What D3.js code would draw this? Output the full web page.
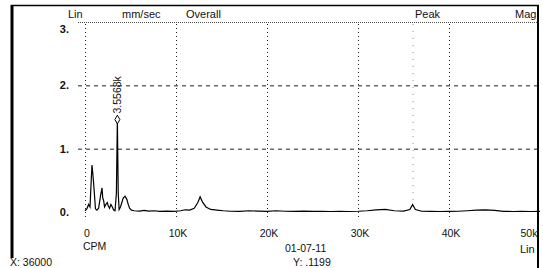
<!DOCTYPE html>
<html>
<head>
<meta charset="utf-8">
<script src="https://cdn.jsdelivr.net/npm/d3@7"></script>
<style>
  body { margin: 0; background: #fff; }
  text { font-family: "Liberation Sans", Arial, sans-serif; fill: #111; }
</style>
</head>
<body>
<div id="chart"></div>
<script>
// spectrum: frequency (CPM) and amplitude (mm/sec)
const cpm = [0, 200, 400, 550, 700, 770, 850, 950, 1050, 1150, 1300, 1500, 1700, 1870, 1950, 2050, 2150, 2300, 2450, 2550, 2700, 2850, 3000, 3150, 3300, 3450, 3557, 3650, 3750, 3900, 4050, 4200, 4400, 4600, 4750, 4900, 5100, 5400, 6000, 6500, 7000, 7600, 8200, 9000, 9800, 10500, 11000, 11500, 12000, 12400, 12650, 12900, 13300, 13800, 14500, 15200, 16000, 17000, 18000, 19000, 20000, 21000, 22000, 23000, 24000, 25000, 26000, 27000, 28000, 29000, 30000, 31000, 32000, 33000, 34000, 35000, 35700, 36000, 36300, 37000, 38000, 39000, 40000, 41000, 42000, 43000, 44000, 45000, 46000, 47000, 48000, 49000, 50000];
const amp = [0.02, 0.05, 0.12, 0.08, 0.55, 0.74, 0.62, 0.45, 0.25, 0.05, 0.03, 0.06, 0.25, 0.38, 0.22, 0.18, 0.08, 0.12, 0.15, 0.10, 0.06, 0.12, 0.08, 0.03, 0.02, 0.3, 1.46, 0.3, 0.04, 0.08, 0.15, 0.22, 0.25, 0.2, 0.12, 0.06, 0.03, 0.02, 0.015, 0.025, 0.015, 0.02, 0.01, 0.015, 0.01, 0.02, 0.035, 0.03, 0.06, 0.15, 0.24, 0.16, 0.08, 0.04, 0.03, 0.02, 0.012, 0.01, 0.02, 0.015, 0.01, 0.02, 0.012, 0.01, 0.015, 0.01, 0.012, 0.008, 0.01, 0.008, 0.012, 0.02, 0.035, 0.04, 0.02, 0.015, 0.04, 0.12, 0.04, 0.012, 0.01, 0.008, 0.01, 0.012, 0.02, 0.03, 0.035, 0.025, 0.01, 0.008, 0.01, 0.008, 0.01];

const xTicks = [0, 10000, 20000, 30000, 40000, 50000];
const xTickLabels = ["0", "10K", "20K", "30K", "40K", "50k"];
const yTicks = [0, 1, 2, 3];
const yTickLabels = ["0.", "1.", "2.", "3."];
const headers = [["Lin", 68], ["mm/sec", 122], ["Overall", 186], ["Peak", 415], ["Mag", 515]];
const peak = { cpm: 3557, amp: 1.46, label: "3.5568k" };
const cursorCpm = 36000;

const W = 543, H = 268;
const svg = d3.select("#chart").append("svg")
  .attr("width", W).attr("height", H);

const x = d3.scaleLinear().domain([0, 50000]).range([85, 540]);
const y = d3.scaleLinear().domain([0, 3]).range([212, 22]);

// header
svg.selectAll("text.hdr").data(headers).join("text")
  .attr("class", "hdr")
  .attr("x", d => d[1]).attr("y", 18)
  .attr("font-size", 11)
  .text(d => d[0]);

// horizontal grid
const g = svg.append("g");
g.selectAll("line.hg").data(yTicks.filter(v => v > 0)).join("line")
  .attr("class", "hg")
  .attr("x1", 78).attr("x2", 537)
  .attr("y1", d => y(d) + 0.5).attr("y2", d => y(d) + 0.5)
  .attr("stroke", "#222")
  .attr("stroke-width", d => d === 3 ? 0.8 : 1)
  .attr("stroke-dasharray", d => d === 3 ? "1,1" : "4,4");

// vertical grid (incl. y axis at 0)
g.selectAll("line.vg").data(xTicks.filter(v => v < 50000)).join("line")
  .attr("class", "vg")
  .attr("x1", d => x(d) + 0.5).attr("x2", d => x(d) + 0.5)
  .attr("y1", 24).attr("y2", 219)
  .attr("stroke", "#222").attr("stroke-width", 1)
  .attr("stroke-dasharray", "1,3");

// cursor line
g.append("line")
  .attr("x1", x(cursorCpm) + 0.5).attr("x2", x(cursorCpm) + 0.5)
  .attr("y1", 24).attr("y2", 212)
  .attr("stroke", "#777").attr("stroke-width", 0.8)
  .attr("stroke-dasharray", "1,6");

// y tick labels
svg.selectAll("text.yl").data(yTicks).join("text")
  .attr("class", "yl")
  .attr("x", 69)
  .attr("y", d => Math.max(y(d) + 4, 33))
  .attr("text-anchor", "end")
  .attr("font-size", 11)
  .attr("font-weight", "bold")
  .text((d, i) => yTickLabels[i]);

// x tick labels (last one sits under the right frame edge)
svg.selectAll("text.xl").data(xTicks).join("text")
  .attr("class", "xl")
  .attr("x", d => Math.min(x(d) + 2, 529))
  .attr("y", 237)
  .attr("text-anchor", "middle")
  .attr("font-size", 10.5)
  .text((d, i) => xTickLabels[i]);

// spectrum
const pts = cpm.map((c, i) => [x(c), y(amp[i])]);
svg.append("path")
  .attr("d", d3.line()(pts))
  .attr("fill", "none")
  .attr("stroke", "#000")
  .attr("stroke-width", 1.2);

// peak marker
const px = x(peak.cpm), py = y(peak.amp);
svg.append("path")
  .attr("d", d3.symbol(d3.symbolDiamond, 22)())
  .attr("transform", `translate(${px},${py})`)
  .attr("fill", "#fff").attr("stroke", "#000").attr("stroke-width", 1);
svg.append("text")
  .attr("transform", `translate(${px + 4},${py - 6}) rotate(-90)`)
  .attr("font-size", 10.5)
  .text(peak.label);

// footer
svg.append("text").attr("x", 83).attr("y", 250).attr("font-size", 10.5).text("CPM");
svg.append("text").attr("x", 10).attr("y", 266).attr("font-size", 10.5).text("X: 36000");
svg.append("text").attr("x", 285).attr("y", 252).attr("font-size", 10.5).text("01-07-11");
svg.append("text").attr("x", 293).attr("y", 266).attr("font-size", 10.5).text("Y: .1199");
svg.append("text").attr("x", 520).attr("y", 253).attr("font-size", 11).text("Lin");

// frame, drawn last so it covers the clipped texts like the original
svg.append("line").attr("x1", 12).attr("x2", 12).attr("y1", 5).attr("y2", 258)
  .attr("stroke", "#000").attr("stroke-width", 3);
svg.append("line").attr("x1", 11).attr("x2", 539).attr("y1", 5.5).attr("y2", 5.5)
  .attr("stroke", "#000").attr("stroke-width", 1.5);
svg.append("line").attr("x1", 538).attr("x2", 538).attr("y1", 5).attr("y2", H)
  .attr("stroke", "#000").attr("stroke-width", 2);
</script>
</body>
</html>
